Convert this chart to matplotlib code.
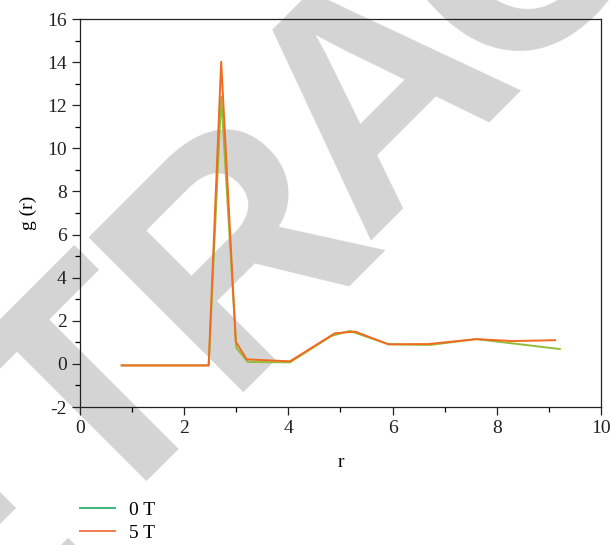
import matplotlib
matplotlib.use("Agg")
import matplotlib.pyplot as plt
from matplotlib.lines import Line2D
from matplotlib.ticker import MultipleLocator

# g(r) curves
r_0T = [0.80, 2.47, 2.71, 3.00, 3.22, 4.03, 4.83, 5.18, 5.92, 6.72, 7.61, 9.21]
g_0T = [-0.07, -0.07, 12.39, 0.75, 0.09, 0.07, 1.30, 1.53, 0.91, 0.88, 1.15, 0.69]

r_5T = [0.80, 2.47, 2.71, 2.99, 3.20, 4.03, 4.89, 5.28, 5.92, 6.68, 7.61, 8.30, 9.12]
g_5T = [-0.07, -0.07, 14.02, 1.03, 0.21, 0.12, 1.42, 1.50, 0.91, 0.92, 1.15, 1.06, 1.10]

labels = ["0 T", "5 T"]

plt.rcParams['font.family'] = ['Liberation Serif', 'DejaVu Serif']
plt.rcParams['axes.unicode_minus'] = False

fig = plt.figure(figsize=(6.12, 5.45), dpi=100)

# "RETRACTED" watermark, one letter at a time along the diagonal
wm_letters = ["E", "T", "R", "A", "C"]
wm_pos = [(-0.060, -0.019), (0.170, 0.258), (0.401, 0.535), (0.631, 0.812), (0.861, 1.089)]
for ch, (x, y) in zip(wm_letters, wm_pos):
    fig.text(x, y, ch, fontsize=228, fontweight='bold', family='Liberation Sans',
             color='#d4d4d4', rotation=45, rotation_mode='anchor',
             ha='center', va='center', zorder=-5)

ax = fig.add_axes([0.1307, 0.2532, 0.8513, 0.7118])
ax.set_facecolor('none')

ax.plot(r_0T, g_0T, color='#93bd38', lw=1.4)
ax.plot(r_5T, g_5T, color='#f26a22', lw=1.4)

ax.set_xlim(0, 10)
ax.set_ylim(-2, 16)
ax.xaxis.set_major_locator(MultipleLocator(2))
ax.xaxis.set_minor_locator(MultipleLocator(1))
ax.yaxis.set_major_locator(MultipleLocator(2))
ax.yaxis.set_minor_locator(MultipleLocator(1))
ax.tick_params(which='major', direction='out', length=6, width=0.9, labelsize=14, colors='#222222')
ax.tick_params(which='minor', direction='out', length=3.5, width=0.9)
for s in ax.spines.values():
    s.set_linewidth(0.9)
    s.set_color('#222222')

ax.set_xlabel("r", fontsize=14, labelpad=12)
ax.set_ylabel("g (r)", fontsize=14, labelpad=7)

handles = [Line2D([], [], color='#3db37c', lw=1.4),
           Line2D([], [], color='#f07d4e', lw=1.4)]
fig.legend(handles, labels, loc='upper left', bbox_to_anchor=(0.118, 0.094),
           frameon=False, fontsize=14, handlelength=1.8, handletextpad=0.7,
           labelspacing=0.25, borderaxespad=0)

fig.savefig("out.png", dpi=100)
